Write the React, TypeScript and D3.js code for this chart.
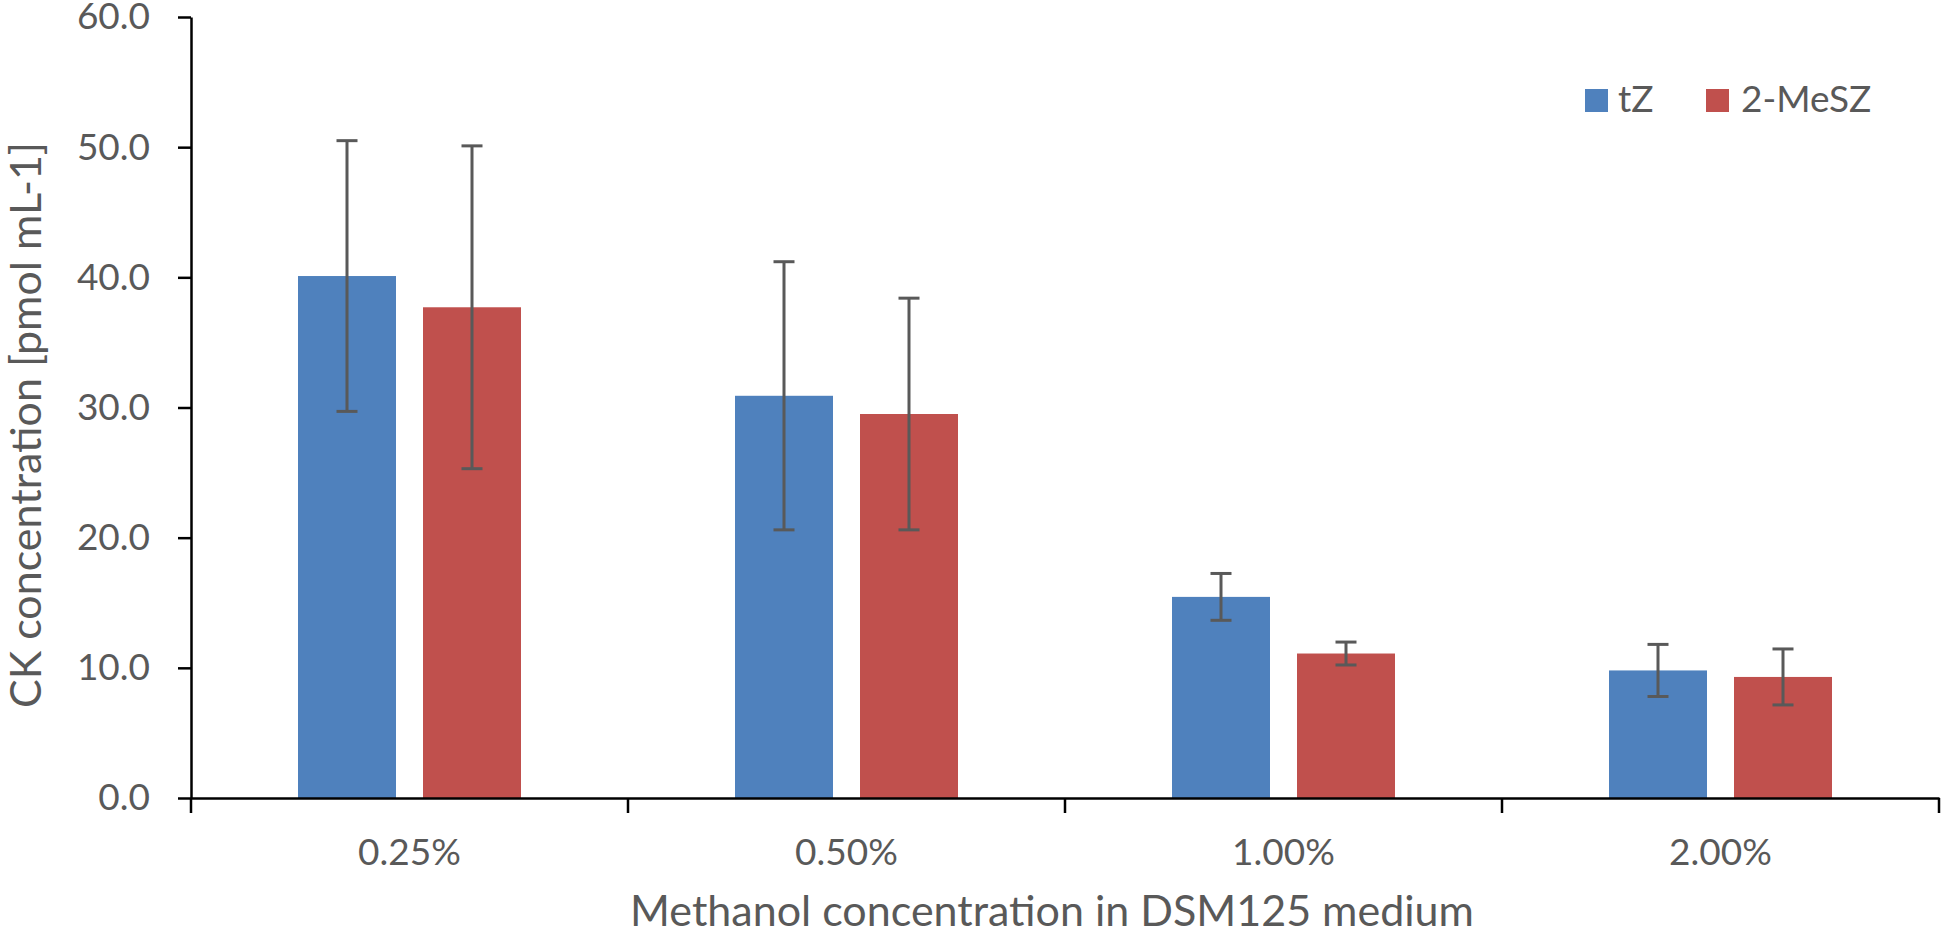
import React, { useEffect, useRef } from 'react';
import * as d3 from 'd3';

const categories = ['0.25%', '0.50%', '1.00%', '2.00%'];
const seriesNames = ['tZ', '2-MeSZ'];
const tZValues = [40.1, 30.9, 15.45, 9.8];
const tZErrors = [10.4, 10.3, 1.8, 2.0];
const meSZValues = [37.7, 29.5, 11.1, 9.3];
const meSZErrors = [12.4, 8.9, 0.88, 2.15];
const yTicks = [0, 10, 20, 30, 40, 50, 60];
const colors = ['#4F81BD', '#C0504D'];

const width = 1944;
const height = 935;
const margin = { top: 17, right: 5, bottom: 137, left: 191 };
const textColor = '#595959';
const font = 'Lato, "Open Sans", sans-serif';

const App: React.FC = () => {
  const xAxisRef = useRef<SVGGElement | null>(null);
  const yAxisRef = useRef<SVGGElement | null>(null);

  const x = d3
    .scaleBand()
    .domain(categories)
    .range([margin.left, width - margin.right])
    .padding(0);

  const inner = d3
    .scaleBand()
    .domain(seriesNames)
    .range([0, x.bandwidth()])
    .paddingInner(0.216)
    .paddingOuter(0.856);

  const y = d3
    .scaleLinear()
    .domain([0, 60])
    .range([height - margin.bottom, margin.top]);

  const series = [
    { name: seriesNames[0], values: tZValues, errors: tZErrors, color: colors[0] },
    { name: seriesNames[1], values: meSZValues, errors: meSZErrors, color: colors[1] },
  ];

  useEffect(() => {
    const yAxis = d3
      .axisLeft(y)
      .tickValues(yTicks)
      .tickSize(13)
      .tickSizeOuter(0)
      .tickPadding(28)
      .tickFormat((d) => d3.format('.1f')(Number(d)));

    const gy = d3.select(yAxisRef.current!);
    gy.call(yAxis);
    gy.select('.domain').attr('stroke', '#000').attr('stroke-width', 2.5);
    gy.selectAll('.tick line').attr('stroke', '#000').attr('stroke-width', 2.5);
    gy.selectAll('.tick text')
      .attr('fill', textColor)
      .style('font-family', font)
      .style('font-size', '37px');

    const xAxis = d3.axisBottom(x).tickSize(0).tickSizeOuter(0);
    const gx = d3.select(xAxisRef.current!);
    gx.call(xAxis);
    gx.select('.domain').attr('stroke', '#000').attr('stroke-width', 2.5);
    gx.selectAll('.tick text')
      .attr('fill', textColor)
      .attr('y', 67)
      .attr('dy', 0)
      .style('font-family', font)
      .style('font-size', '37px');

    // boundary ticks between categories
    const bounds = categories
      .map((c) => x(c)!)
      .concat([x(categories[categories.length - 1])! + x.bandwidth()]);
    gx.selectAll('.bound')
      .data(bounds)
      .join('line')
      .attr('class', 'bound')
      .attr('x1', (d) => d)
      .attr('x2', (d) => d)
      .attr('y1', 0)
      .attr('y2', 15)
      .attr('stroke', '#000')
      .attr('stroke-width', 2.5);
  }, []);

  const y0 = y(0);

  return (
    <svg
      width={width}
      height={height}
      style={{ position: 'absolute', left: 0, top: 0, background: '#fff' }}
    >
      <rect width={width} height={height} fill="#fff" />
      {series.map((s) => (
        <g key={s.name}>
          {s.values.map((v, i) => (
            <rect
              key={categories[i]}
              x={x(categories[i])! + inner(s.name)!}
              y={y(v)}
              width={inner.bandwidth()}
              height={y0 - y(v)}
              fill={s.color}
            />
          ))}
        </g>
      ))}
      <g ref={xAxisRef} transform={`translate(0,${y0})`} />
      <g ref={yAxisRef} transform={`translate(${margin.left},0)`} />
      {series.map((s) => (
        <g key={s.name + '-err'} stroke="#595959" strokeWidth={3}>
          {s.values.map((v, i) => {
            const cx = x(categories[i])! + inner(s.name)! + inner.bandwidth() / 2;
            const top = y(v + s.errors[i]);
            const bot = y(v - s.errors[i]);
            return (
              <g key={categories[i]}>
                <line x1={cx} x2={cx} y1={top} y2={bot} />
                <line x1={cx - 10.5} x2={cx + 10.5} y1={top} y2={top} />
                <line x1={cx - 10.5} x2={cx + 10.5} y1={bot} y2={bot} />
              </g>
            );
          })}
        </g>
      ))}
      <g style={{ fontFamily: font, fontSize: 37 }} fill={textColor}>
        <rect x={1585} y={89} width={23} height={23} fill={colors[0]} />
        <text x={1618} y={112}>{seriesNames[0]}</text>
        <rect x={1706} y={89} width={23} height={23} fill={colors[1]} />
        <text x={1741} y={112}>{seriesNames[1]}</text>
      </g>
      <text
        x={1052}
        y={926}
        textAnchor="middle"
        fill={textColor}
        style={{ fontFamily: font, fontSize: 43 }}
      >
        Methanol concentration in DSM125 medium
      </text>
      <text
        transform={`translate(41,425) rotate(-90)`}
        textAnchor="middle"
        fill={textColor}
        style={{ fontFamily: font, fontSize: 43 }}
      >
        CK concentration [pmol mL-1]
      </text>
    </svg>
  );
};

export default App;
